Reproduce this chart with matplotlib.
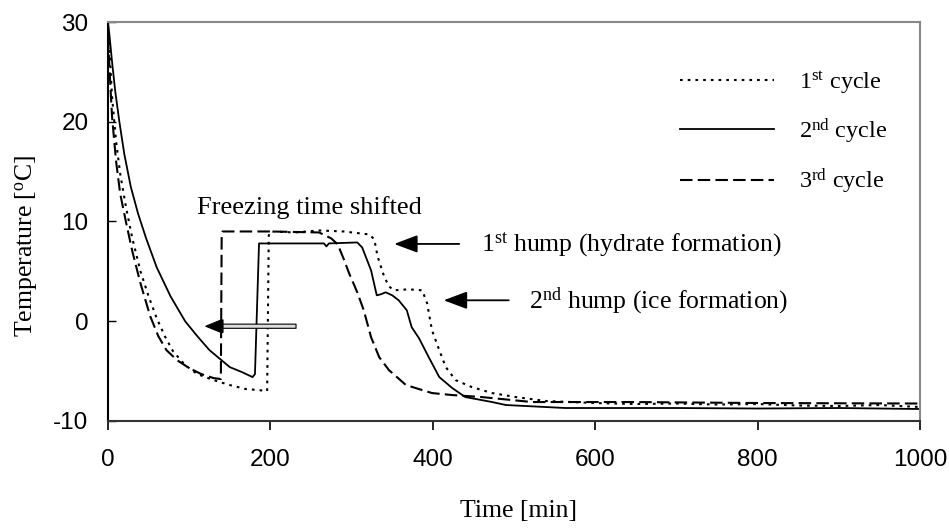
import matplotlib
matplotlib.use("Agg")
import matplotlib.pyplot as plt

plt.rcParams['mathtext.fontset'] = 'custom'
plt.rcParams['mathtext.rm'] = 'Liberation Serif'
plt.rcParams['mathtext.it'] = 'Liberation Serif:italic'
plt.rcParams['axes.unicode_minus'] = False

# 1st cycle (dotted)
t1 = [0, 2, 5, 10, 15, 22, 30, 40, 50, 60, 70, 80, 95, 110, 130, 150, 170, 185, 196,
      198, 200, 230, 260, 290, 322, 328, 332, 340, 346, 352, 370, 387, 393, 399, 408,
      416, 428, 448, 473, 502, 540, 600, 650, 700, 750, 800, 850, 900, 950, 1000]
T1 = [29.5, 27, 22.5, 18, 14.8, 11.5, 8.3, 5, 2.5, 0.3, -1.5, -3, -4.4, -5.3, -5.9, -6.4, -6.8, -6.9, -7.0,
      8.6, 9.0, 8.9, 9.1, 9.0, 8.7, 8.2, 6.5, 4.5, 3.5, 3.1, 3.2, 3.1, 1.8, -0.9, -2.9,
      -4.6, -5.9, -6.6, -7.2, -7.6, -8.0, -8.2, -8.3, -8.25, -8.35, -8.3, -8.45, -8.5, -8.4, -8.6]

# 2nd cycle (solid)
t2 = [0, 2, 5, 9, 14, 20, 28, 37, 47, 60, 77, 95, 110, 125, 150, 165, 178, 181, 186,
      240, 266, 269, 272, 307, 313, 324, 331, 336, 342, 350, 358, 368, 374, 383, 395,
      408, 424, 440, 473, 490, 563, 620, 700, 800, 900, 1000]
T2 = [30, 28.5, 26, 23, 20, 16.8, 13.5, 10.8, 8.3, 5.4, 2.5, 0, -1.5, -2.9, -4.6, -5.1, -5.6, -5.3, 7.8,
      7.8, 7.8, 7.5, 7.8, 7.9, 7.4, 5.1, 2.6, 2.7, 2.9, 2.6, 2.1, 1.1, -0.6, -1.7, -3.6,
      -5.6, -6.7, -7.6, -8.1, -8.4, -8.7, -8.7, -8.7, -8.75, -8.7, -8.8]

# 3rd cycle (dashed)
t3 = [0, 2, 5, 10, 15, 22, 30, 40, 52, 62, 72, 85, 100, 115, 130, 139, 140, 141, 200, 260,
      275, 283, 290, 297, 307, 315, 324, 334, 346, 367, 399, 424, 460, 522, 645, 800, 1000]
T3 = [28.5, 25, 20.5, 16, 12.8, 10, 7, 3.8, 0.5, -1.5, -2.9, -3.9, -4.7, -5.3, -5.7, -5.8, 8.5, 9.0, 9.0, 8.9,
      8.3, 7.7, 6.3, 4.8, 2.9, 1.1, -1.6, -3.6, -4.9, -6.4, -7.2, -7.4, -7.6, -8.1, -8.1, -8.2, -8.25]

xticks = [0, 200, 400, 600, 800, 1000]
yticks = [-10, 0, 10, 20, 30]
labels = ['1$^{\\mathrm{st}}$ cycle', '2$^{\\mathrm{nd}}$ cycle', '3$^{\\mathrm{rd}}$ cycle']

serif = 'Liberation Serif'
sans = 'Liberation Sans'

fig = plt.figure(figsize=(9.49, 5.29), dpi=100)
ax = fig.add_axes([0.1138, 0.2042, 0.8556, 0.7542])

l1, = ax.plot(t1, T1, color='black', lw=1.5, ls=(0, (1.3, 2.4)))
l2, = ax.plot(t2, T2, color='black', lw=1.3, ls='-')
l3, = ax.plot(t3, T3, color='black', lw=1.5, ls=(0, (6, 2.5)))

ax.set_xlim(0, 1000)
ax.set_ylim(-10, 30)
ax.set_xticks(xticks)
ax.set_yticks(yticks)
ax.tick_params(axis='x', direction='out', length=6.5, width=1.2, pad=14, labelsize=17.5)
ax.tick_params(axis='y', direction='in', length=6, width=1.0, pad=14, labelsize=17.5)
for lab in ax.get_xticklabels() + ax.get_yticklabels():
    lab.set_family(sans)

ax.spines['left'].set_color('black')
ax.spines['bottom'].set_color('#333333')
ax.spines['top'].set_color('#888888')
ax.spines['right'].set_color('#888888')
for s in ax.spines.values():
    s.set_linewidth(1.5)

ax.set_xlabel('Time [min]', family=serif, fontsize=18.5)
ax.set_ylabel('Temperature [$^{\\mathrm{o}}$C]', family=serif, fontsize=18.5)
ax.xaxis.set_label_coords(0.505, -0.197)
ax.yaxis.set_label_coords(-0.084, 0.44)

ax.legend([l1, l2, l3], labels, loc='upper left', bbox_to_anchor=(0.704, 0.882),
          frameon=False, handlelength=3.9, handletextpad=1.0, labelspacing=0.85,
          borderpad=0, borderaxespad=0, prop={'family': serif, 'size': 17.5})

# annotations
ax.text(109, 11.45, 'Freezing time shifted', family=serif, fontsize=19, ha='left', va='center')
ax.annotate('', xy=(117, -0.5), xytext=(235, -0.5),
            arrowprops=dict(arrowstyle='simple,head_length=1.1,head_width=0.9,tail_width=0.3',
                            mutation_scale=10, fc='#dddddd', ec='black', lw=0.8))
ax.annotate('', xy=(117, -0.5), xytext=(131, -0.5),
            arrowprops=dict(arrowstyle='-|>,head_length=1.1,head_width=0.45',
                            mutation_scale=10, fc='black', ec='black', lw=1))

ax.annotate('', xy=(349, 7.75), xytext=(436, 7.75),
            arrowprops=dict(arrowstyle='-|>,head_length=0.8,head_width=0.3',
                            mutation_scale=18, fc='black', ec='black', lw=1.3))
ax.text(459, 7.7, '1$^{\\mathrm{st}}$ hump (hydrate formation)', family=serif, fontsize=18.5,
        ha='left', va='center')
ax.annotate('', xy=(410, 2.1), xytext=(497, 2.1),
            arrowprops=dict(arrowstyle='-|>,head_length=0.8,head_width=0.3',
                            mutation_scale=18, fc='black', ec='black', lw=1.3))
ax.text(518, 2.0, '2$^{\\mathrm{nd}}$ hump (ice formation)', family=serif, fontsize=18.5,
        ha='left', va='center')

fig.savefig('out.png', dpi=100)
